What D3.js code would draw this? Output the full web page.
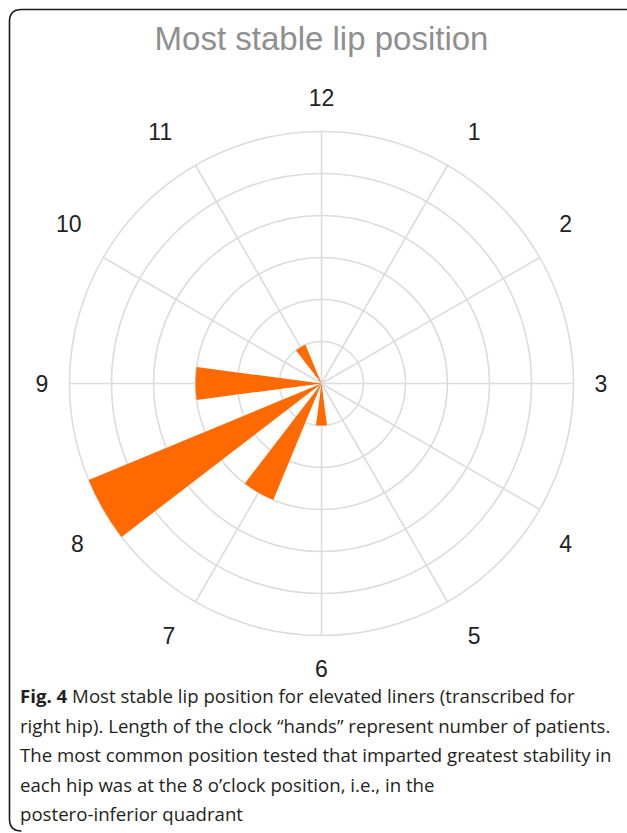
<!DOCTYPE html>
<html>
<head>
<meta charset="utf-8">
<script src="https://cdn.jsdelivr.net/npm/d3@7"></script>
<style>
  html, body { margin: 0; padding: 0; background: #fff; }
  svg { display: block; }
</style>
</head>
<body>
<svg id="chart" width="627" height="833"></svg>
<script>
// ---- data ----
const hourLabels = ["12", "1", "2", "3", "4", "5", "6", "7", "8", "9", "10", "11"];
const patientCounts = [0, 0, 0, 0, 0, 0, 1, 3, 6, 3, 0, 1];
const ringTicks = [1, 2, 3, 4, 5, 6];
const titleText = "Most stable lip position";
const captionBold = "Fig. 4";
const captionLines = [
  " Most stable lip position for elevated liners (transcribed for",
  "right hip). Length of the clock \u201chands\u201d represent number of patients.",
  "The most common position tested that imparted greatest stability in",
  "each hip was at the 8 o\u2019clock position, i.e., in the",
  "postero-inferior quadrant"
];

// ---- layout ----
const svg = d3.select("#chart");
const cx = 321.5, cy = 383.5, R = 252;

// frame (left + top, rounded corners)
const fr = 12;
svg.append("path")
  .attr("d", `M627,9.5 L${9.5+fr},9.5 Q9.5,9.5 9.5,${9.5+fr} L9.5,${831-fr} Q9.5,831 ${9.5+fr},831`)
  .attr("fill", "none").attr("stroke", "#1a1a1a").attr("stroke-width", 1.6);

// title
svg.append("text")
  .attr("x", cx).attr("y", 50)
  .attr("text-anchor", "middle")
  .attr("font-family", "'Liberation Sans', Arial, sans-serif")
  .attr("font-size", 33)
  .attr("fill", "#8f8f8f")
  .text(titleText);

const r = d3.scaleLinear().domain([0, d3.max(ringTicks)]).range([0, R]);
const ang = d3.scaleLinear().domain([0, hourLabels.length]).range([0, 2 * Math.PI]);

const g = svg.append("g").attr("transform", `translate(${cx},${cy})`);

// rings
g.selectAll("circle.ring").data(ringTicks).join("circle")
  .attr("class", "ring")
  .attr("r", d => r(d))
  .attr("fill", "none").attr("stroke", "#dcdcdc").attr("stroke-width", 1.6);

// spokes
g.selectAll("line.spoke").data(hourLabels).join("line")
  .attr("class", "spoke")
  .attr("x1", 0).attr("y1", 0)
  .attr("x2", (d, i) => R * Math.sin(ang(i)))
  .attr("y2", (d, i) => -R * Math.cos(ang(i)))
  .attr("stroke", "#dcdcdc").attr("stroke-width", 1.6);

// wedges
const half = ang(1) / 4;
const arc = d3.arc();
g.selectAll("path.wedge").data(patientCounts.map((v, i) => ({v, i})).filter(d => d.v > 0)).join("path")
  .attr("class", "wedge")
  .attr("d", d => arc({innerRadius: 0, outerRadius: r(d.v), startAngle: ang(d.i) - half, endAngle: ang(d.i) + half}))
  .attr("fill", "#ff6a00");

// hour labels (placed around the outer ring, edge-aligned on the sides)
function labelPos(d, i) {
  const a = ang(i);
  const s = Math.sin(a);
  const dev = (2.54 * Math.sin(4 * a) - 1.155 * Math.sin(2 * a)) * Math.PI / 180;
  const lr = R + 30.5 + 3 * Math.cos(2 * a) + 12.5 * Math.abs(Math.sin(2 * a));
  const side = Math.abs(s) > 0.01 ? Math.sign(s) * (d.length - 1) * 8.5 : 0;
  return [lr * Math.sin(a + dev) + side, -lr * Math.cos(a + dev)];
}
g.selectAll("text.hour").data(hourLabels).join("text")
  .attr("class", "hour")
  .attr("x", (d, i) => labelPos(d, i)[0])
  .attr("y", (d, i) => labelPos(d, i)[1])
  .attr("dy", "0.36em")
  .attr("text-anchor", "middle")
  .attr("font-family", "'Liberation Sans', Arial, sans-serif")
  .attr("font-size", 23)
  .attr("fill", "#222")
  .text(d => d);

// caption
const cap = svg.append("g").attr("font-family", "'Open Sans', 'Noto Sans', sans-serif")
  .attr("font-size", 18.5).attr("fill", "#231f20");
const lineY = [703, 733, 762, 792, 821];
captionLines.forEach((t, i) => {
  const tx = cap.append("text").attr("x", 0).attr("y", lineY[i]);
  if (i === 0) tx.append("tspan").attr("font-weight", "bold").text(captionBold);
  tx.append("tspan").text(t);
});
// compress horizontally so the widest line spans the same width as in the figure
const widths = cap.selectAll("text").nodes().map(n => n.getComputedTextLength());
const sx = 592 / widths[2];
cap.attr("transform", `translate(20,0) scale(${sx},1)`);
</script>
</body>
</html>
